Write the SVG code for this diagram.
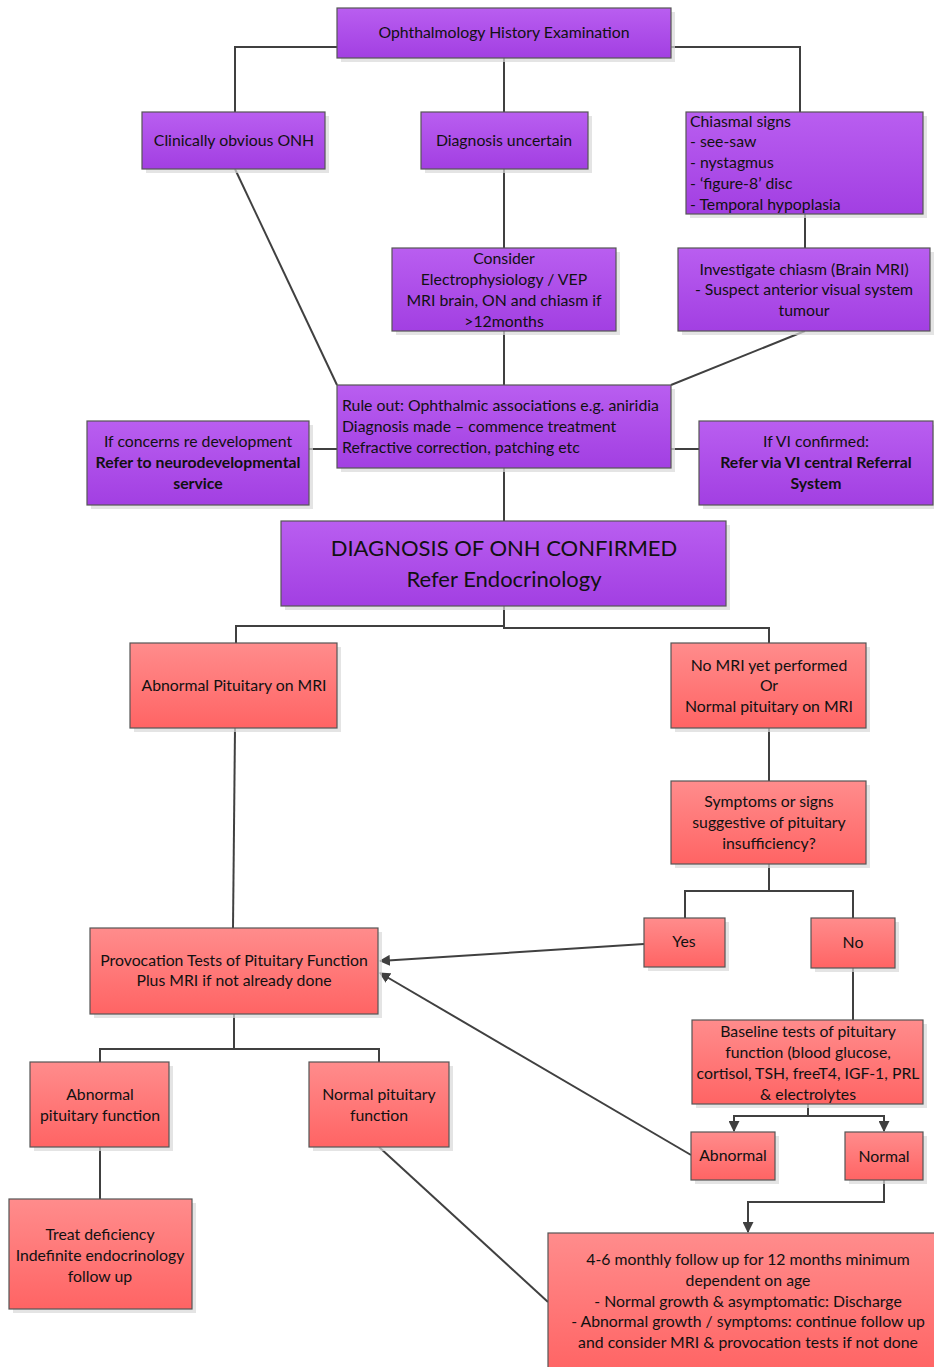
<svg xmlns="http://www.w3.org/2000/svg" width="934" height="1367" viewBox="0 0 934 1367">
<defs>
<linearGradient id="gp" x1="0" y1="0" x2="0" y2="1"><stop offset="0" stop-color="#b95ef0"/><stop offset="1" stop-color="#a23fe2"/></linearGradient>
<linearGradient id="gr" x1="0" y1="0" x2="0" y2="1"><stop offset="0" stop-color="#ff8c8c"/><stop offset="1" stop-color="#ff6464"/></linearGradient>
<marker id="ah" viewBox="0 0 10 10" refX="9" refY="5" markerWidth="11" markerHeight="11" markerUnits="userSpaceOnUse" orient="auto"><path d="M0,0 L10,5 L0,10 z" fill="#404040"/></marker>
</defs>
<style>
.p{fill:url(#gp);stroke:#555;stroke-width:1.2}
.r{fill:url(#gr);stroke:#555;stroke-width:1.2}
.sh{fill:#d9d9d9;opacity:0.7}
text{font-family:Lato,"Open Sans","Liberation Sans",sans-serif;font-size:15.8px;fill:#111}
.c{text-anchor:middle}
.b{font-weight:bold}
.big{font-size:22px}
.ln{fill:none;stroke:#404040;stroke-width:2}
</style>
<rect width="934" height="1367" fill="#fff"/>
<g id="connectors">
<path class="ln" d="M337,47 H235 V112"/>
<path class="ln" d="M671,47 H800 V112"/>
<path class="ln" d="M504,58 V112"/>
<path class="ln" d="M504,169 V248"/>
<path class="ln" d="M805,214 V248"/>
<path class="ln" d="M235,169 L337,385"/>
<path class="ln" d="M504,331 V385"/>
<path class="ln" d="M805,331 L671,385"/>
<path class="ln" d="M309,449 H337"/>
<path class="ln" d="M671,449 H699"/>
<path class="ln" d="M504,468 V521"/>
<path class="ln" d="M504,606 V628 H769 V643"/>
<path class="ln" d="M504,626 H236 V643"/>
<path class="ln" d="M235,728 L233,928"/>
<path class="ln" d="M769,728 V781"/>
<path class="ln" d="M769,864 V891 H685 V918"/>
<path class="ln" d="M769,891 H853 V918"/>
<path class="ln" d="M644,944 L380,961" marker-end="url(#ah)"/>
<path class="ln" d="M853,968 V1020"/>
<path class="ln" d="M808,1104 V1116 H734 V1131" marker-end="url(#ah)"/>
<path class="ln" d="M808,1116 H884 V1131" marker-end="url(#ah)"/>
<path class="ln" d="M691,1155 L380,973" marker-end="url(#ah)"/>
<path class="ln" d="M234,1014 V1049 H100 V1062"/>
<path class="ln" d="M234,1049 H379 V1062"/>
<path class="ln" d="M100,1147 V1199"/>
<path class="ln" d="M379,1147 L548,1302"/>
<path class="ln" d="M884,1180 V1202 H748 V1232" marker-end="url(#ah)"/>
</g>
<g id="n1"><rect class="sh" x="341" y="12" width="334" height="50"/><rect class="p" x="337" y="8" width="334" height="50"/><text class="c" x="504" y="38">Ophthalmology History Examination</text></g>
<g id="n2"><rect class="sh" x="146" y="116" width="183" height="57"/><rect class="p" x="142" y="112" width="183" height="57"/><text class="c" x="234" y="146">Clinically obvious ONH</text></g>
<g id="n3"><rect class="sh" x="425" y="116" width="167" height="57"/><rect class="p" x="421" y="112" width="167" height="57"/><text class="c" x="504" y="146">Diagnosis uncertain</text></g>
<g id="n4"><rect class="sh" x="690" y="116" width="237" height="102"/><rect class="p" x="686" y="112" width="237" height="102"/>
<text x="690" y="127">Chiasmal signs</text><text x="690" y="147">- see-saw</text><text x="690" y="168">- nystagmus</text><text x="690" y="189">- ‘figure-8’ disc</text><text x="690" y="210">- Temporal hypoplasia</text></g>
<g id="n5"><rect class="sh" x="396" y="252" width="224" height="83"/><rect class="p" x="392" y="248" width="224" height="83"/>
<text class="c" x="504" y="264">Consider</text><text class="c" x="504" y="285">Electrophysiology / VEP</text><text class="c" x="504" y="306">MRI brain, ON and chiasm if</text><text class="c" x="504" y="327">&gt;12months</text></g>
<g id="n6"><rect class="sh" x="682" y="252" width="252" height="83"/><rect class="p" x="678" y="248" width="252" height="83"/>
<text class="c" x="804" y="275">Investigate chiasm (Brain MRI)</text><text class="c" x="804" y="295">- Suspect anterior visual system</text><text class="c" x="804" y="316">tumour</text></g>
<g id="n7"><rect class="sh" x="341" y="389" width="334" height="83"/><rect class="p" x="337" y="385" width="334" height="83"/>
<text x="342" y="411">Rule out: Ophthalmic associations e.g. aniridia</text><text x="342" y="432">Diagnosis made – commence treatment</text><text x="342" y="453">Refractive correction, patching etc</text></g>
<g id="n8"><rect class="sh" x="91" y="425" width="222" height="84"/><rect class="p" x="87" y="421" width="222" height="84"/>
<text class="c" x="198" y="447">If concerns re development</text><text class="c b" x="198" y="468">Refer to neurodevelopmental</text><text class="c b" x="198" y="489">service</text></g>
<g id="n9"><rect class="sh" x="703" y="425" width="231" height="84"/><rect class="p" x="699" y="421" width="234" height="84"/>
<text class="c" x="816" y="447">If VI confirmed:</text><text class="c b" x="816" y="468">Refer via VI central Referral</text><text class="c b" x="816" y="489">System</text></g>
<g id="n10"><rect class="sh" x="285" y="525" width="445" height="85"/><rect class="p" x="281" y="521" width="445" height="85"/>
<text class="c big" x="504" y="556">DIAGNOSIS OF ONH CONFIRMED</text><text class="c big" x="504" y="587">Refer Endocrinology</text></g>
<g id="n11"><rect class="sh" x="134" y="647" width="207" height="85"/><rect class="r" x="130" y="643" width="207" height="85"/><text class="c" x="234" y="691">Abnormal Pituitary on MRI</text></g>
<g id="n12"><rect class="sh" x="675" y="647" width="195" height="85"/><rect class="r" x="671" y="643" width="195" height="85"/>
<text class="c" x="769" y="671">No MRI yet performed</text><text class="c" x="769" y="691">Or</text><text class="c" x="769" y="712">Normal pituitary on MRI</text></g>
<g id="n13"><rect class="sh" x="675" y="785" width="195" height="83"/><rect class="r" x="671" y="781" width="195" height="83"/>
<text class="c" x="769" y="807">Symptoms or signs</text><text class="c" x="769" y="828">suggestive of pituitary</text><text class="c" x="769" y="849">insufficiency?</text></g>
<g id="n14"><rect class="sh" x="648" y="922" width="81" height="49"/><rect class="r" x="644" y="918" width="81" height="49"/><text class="c" x="684" y="947">Yes</text></g>
<g id="n15"><rect class="sh" x="815" y="922" width="84" height="50"/><rect class="r" x="811" y="918" width="84" height="50"/><text class="c" x="853" y="948">No</text></g>
<g id="n16"><rect class="sh" x="94" y="932" width="288" height="86"/><rect class="r" x="90" y="928" width="288" height="86"/>
<text class="c" x="234" y="966">Provocation Tests of Pituitary Function</text><text class="c" x="234" y="986">Plus MRI if not already done</text></g>
<g id="n17"><rect class="sh" x="696" y="1024" width="231" height="84"/><rect class="r" x="692" y="1020" width="231" height="84"/>
<text class="c" x="808" y="1037">Baseline tests of pituitary</text><text class="c" x="808" y="1058">function (blood glucose,</text><text class="c" x="808" y="1079">cortisol, TSH, freeT4, IGF-1, PRL</text><text class="c" x="808" y="1100">&amp; electrolytes</text></g>
<g id="n18"><rect class="sh" x="34" y="1066" width="139" height="85"/><rect class="r" x="30" y="1062" width="139" height="85"/>
<text class="c" x="100" y="1100">Abnormal</text><text class="c" x="100" y="1121">pituitary function</text></g>
<g id="n19"><rect class="sh" x="313" y="1066" width="140" height="85"/><rect class="r" x="309" y="1062" width="140" height="85"/>
<text class="c" x="379" y="1100">Normal pituitary</text><text class="c" x="379" y="1121">function</text></g>
<g id="n20"><rect class="sh" x="695" y="1136" width="84" height="48"/><rect class="r" x="691" y="1132" width="84" height="48"/><text class="c" x="733" y="1161">Abnormal</text></g>
<g id="n21"><rect class="sh" x="849" y="1136" width="78" height="48"/><rect class="r" x="845" y="1132" width="78" height="48"/><text class="c" x="884" y="1162">Normal</text></g>
<g id="n22"><rect class="sh" x="13" y="1203" width="183" height="110"/><rect class="r" x="9" y="1199" width="183" height="110"/>
<text class="c" x="100" y="1240">Treat deficiency</text><text class="c" x="100" y="1261">Indefinite endocrinology</text><text class="c" x="100" y="1282">follow up</text></g>
<g id="n23"><rect class="r" x="548" y="1233" width="390" height="140"/>
<text class="c" x="748" y="1265">4-6 monthly follow up for 12 months minimum</text><text class="c" x="748" y="1286">dependent on age</text><text class="c" x="748" y="1307">- Normal growth &amp; asymptomatic: Discharge</text><text class="c" x="748" y="1327">- Abnormal growth / symptoms: continue follow up</text><text class="c" x="748" y="1348">and consider MRI &amp; provocation tests if not done</text></g>
</svg>
